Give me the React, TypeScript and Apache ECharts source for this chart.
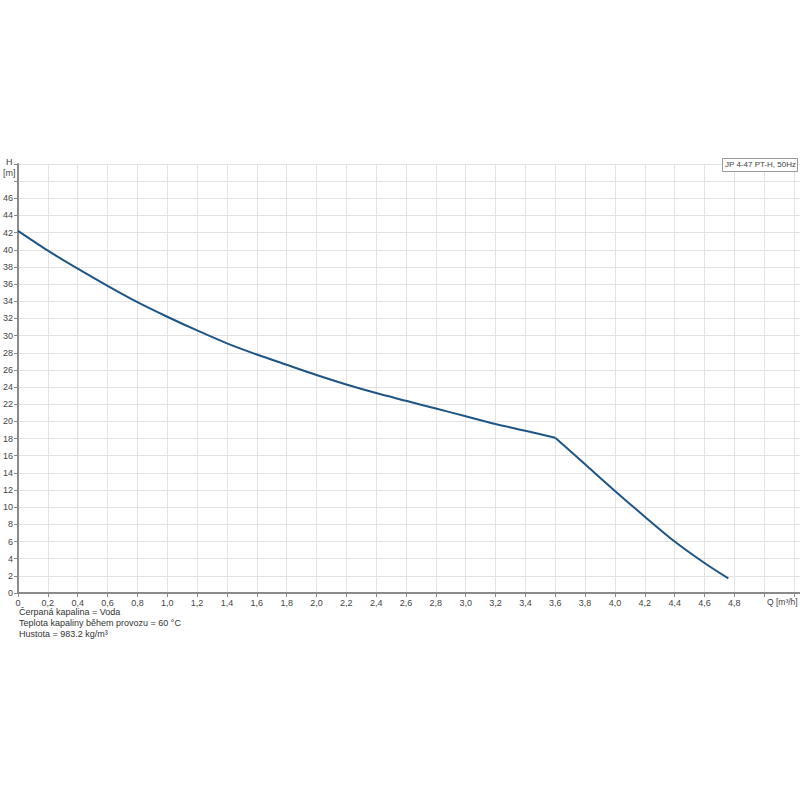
import React, { useEffect, useRef } from "react";
import * as echarts from "echarts";

const flowQ = [0, 0.2, 0.4, 0.6, 0.8, 1.0, 1.2, 1.4, 1.6, 1.8, 2.0, 2.2, 2.4, 2.6, 2.8, 3.0, 3.2, 3.4, 3.6, 3.8, 4.0, 4.2, 4.4, 4.6, 4.76];
const headH = [42.2, 39.9, 37.8, 35.8, 33.9, 32.2, 30.6, 29.1, 27.8, 26.6, 25.4, 24.3, 23.3, 22.4, 21.5, 20.6, 19.7, 18.9, 18.1, 15.0, 11.9, 8.9, 6.0, 3.5, 1.7];
const kneeQ = 3.6;
const seriesName = "JP 4-47 PT-H, 50Hz";
const infoLines = [
  "Čerpaná kapalina = Voda",
  "Teplota kapaliny během provozu = 60 °C",
  "Hustota = 983.2 kg/m³",
];
const xUnitLabel = "Q [m³/h]";
const yNameLabel = "H";
const yUnitLabel = "[m]";

const FONT = "'Liberation Sans', Arial, sans-serif";

export default function App() {
  const ref = useRef<HTMLDivElement>(null);
  useEffect(() => {
    if (!ref.current) return;
    const chart = echarts.init(ref.current, null, { renderer: "svg" });
    const data = flowQ.map((q, i) => [q, headH[i]]);
    const partA = data.filter((d) => d[0] <= kneeQ + 1e-9);
    const partB = data.filter((d) => d[0] >= kneeQ - 1e-9);
    const lineStyle = { color: "#1f5585", width: 2 };
    chart.setOption({
      animation: false,
      backgroundColor: "#ffffff",
      grid: { left: 18, right: 0, top: 164, bottom: 207, containLabel: false },
      xAxis: {
        type: "value",
        min: 0,
        max: 5.24,
        interval: 0.2,
        axisLine: { show: true, onZero: false, lineStyle: { color: "#8a8a8a", width: 2 } },
        axisTick: { show: true, length: 4, lineStyle: { color: "#8a8a8a" } },
        splitLine: { show: true, lineStyle: { color: "#e3e3e3", width: 1 } },
        axisLabel: {
          color: "#444",
          fontSize: 9,
          fontFamily: FONT,
          margin: 5,
          showMaxLabel: false,
          formatter: (v: number) => {
            if (v > 4.81) return "";
            if (Math.abs(v) < 1e-9) return "0";
            return v.toFixed(1).replace(".", ",");
          },
        },
      },
      yAxis: {
        type: "value",
        min: 0,
        max: 50,
        interval: 2,
        axisLine: { show: true, lineStyle: { color: "#8a8a8a", width: 2 } },
        axisTick: { show: true, length: 4, lineStyle: { color: "#8a8a8a" } },
        splitLine: { show: true, lineStyle: { color: "#e3e3e3", width: 1 } },
        axisLabel: {
          color: "#444",
          fontSize: 9,
          fontFamily: FONT,
          margin: 5,
          formatter: (v: number) => (v >= 47 ? "" : String(v)),
        },
      },
      series: [
        { name: seriesName, type: "line", data: partA, showSymbol: false, smooth: 0.3, lineStyle },
        { name: seriesName, type: "line", data: partB, showSymbol: false, smooth: 0.3, lineStyle },
      ],
      graphic: [
        { type: "text", left: 6, top: 157, style: { text: yNameLabel, fill: "#444", fontSize: 9, fontFamily: FONT } },
        { type: "text", left: 3, top: 168, style: { text: yUnitLabel, fill: "#444", fontSize: 9, fontFamily: FONT } },
        { type: "text", left: 767, top: 597, style: { text: xUnitLabel, fill: "#444", fontSize: 8.5, fontFamily: FONT } },
        {
          type: "rect",
          shape: { x: 722.5, y: 158.5, width: 75, height: 13 },
          style: { fill: "#ffffff", stroke: "#9a9a9a", lineWidth: 1 },
          z: 100,
        },
        {
          type: "text",
          x: 725,
          y: 160.5,
          z: 101,
          style: { text: seriesName, fill: "#444", fontSize: 8, fontFamily: FONT },
        },
        ...infoLines.map((t, i) => ({
          type: "text",
          left: 19,
          top: 607 + i * 11,
          style: { text: t, fill: "#333", fontSize: 9, fontFamily: FONT },
        })),
      ],
    });
    return () => chart.dispose();
  }, []);
  return <div ref={ref} style={{ width: 800, height: 800, position: "absolute", left: 0, top: 0 }} />;
}
